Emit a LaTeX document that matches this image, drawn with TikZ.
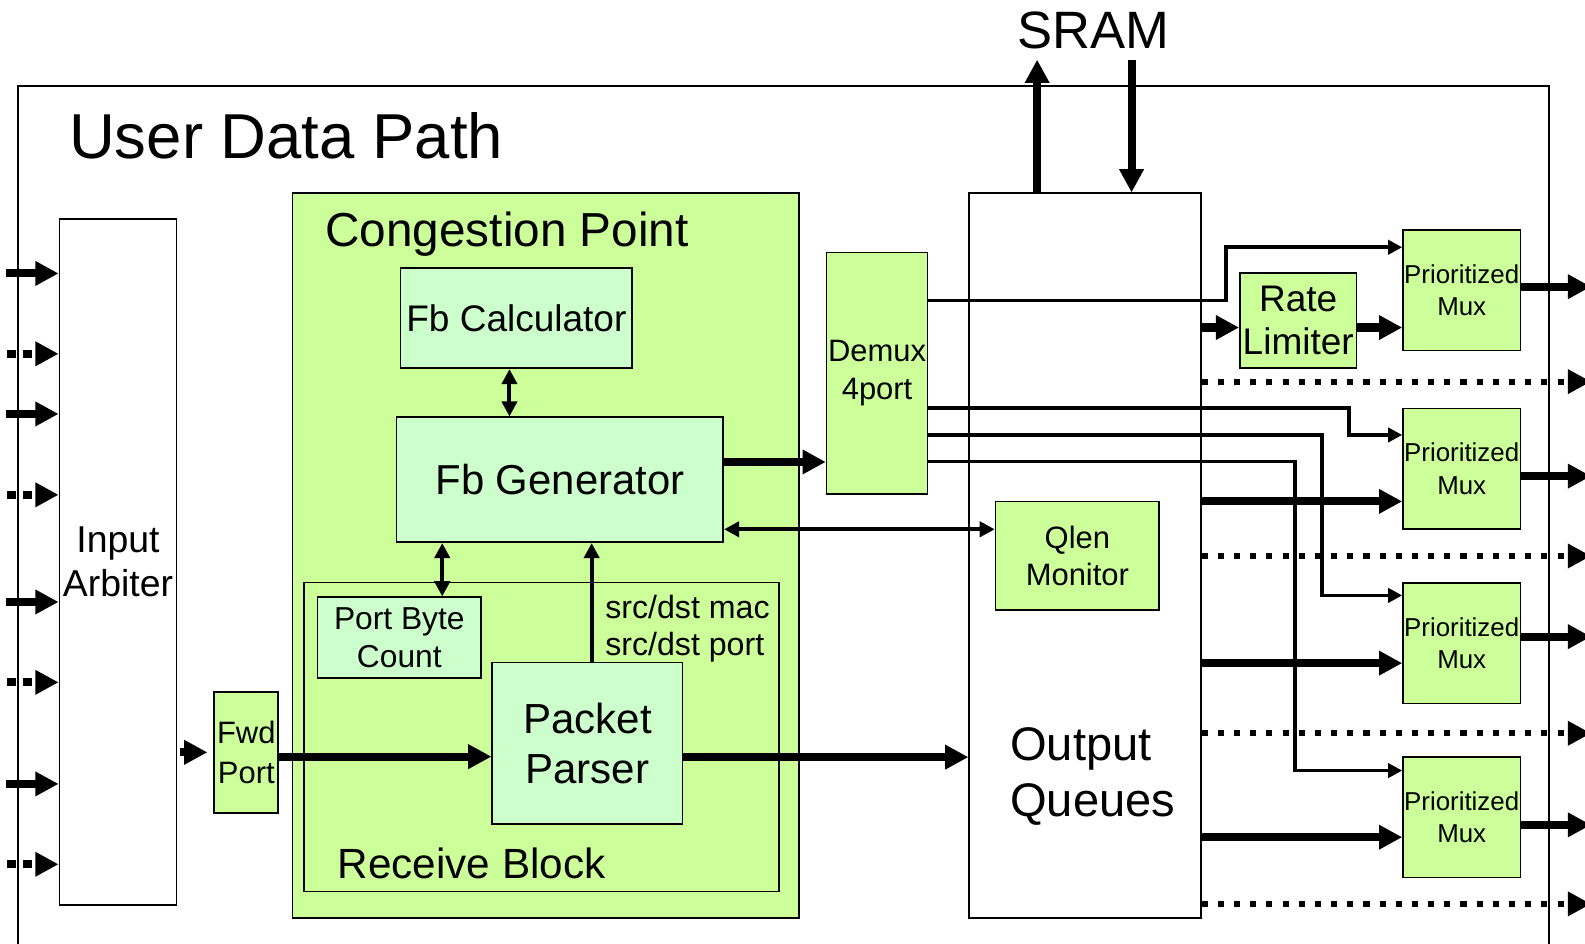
\documentclass[tikz,border=0pt]{standalone}
\usepackage{fontspec}
\setmainfont{Liberation Sans}
\usepackage{xcolor}
\usepackage{tikz}
\usetikzlibrary{positioning,arrows.meta}
\definecolor{lime}{HTML}{CCFF99}
\definecolor{mint}{HTML}{CCFFCC}
\newcommand{\fsz}[2]{\fontsize{#1}{#2}\selectfont}

\begin{document}
\begin{tikzpicture}[x=0.5pt,y=-0.5pt,
  blk/.style={draw,line width=0.8pt,inner sep=0pt,align=center,fill=lime},
  sub/.style={blk,fill=mint},
  lbl/.style={inner sep=0pt},
  bus/.style={line width=4pt,-{Triangle[length=11.5pt,width=11.5pt]}},
  busdot/.style={bus,line width=3pt,dash pattern=on 3pt off 5pt},
  busin/.style={bus,dash pattern=on 4.3pt off 3.7pt},
  sig/.style={line width=1.8pt,-{Triangle[length=7pt,width=7pt]}},
  ctl/.style={line width=2pt,{Triangle[length=7.5pt,width=7.5pt]}-{Triangle[length=7.5pt,width=7.5pt]}},
  upsig/.style={line width=2pt,-{Triangle[length=7.5pt,width=7.5pt]}}]
\useasboundingbox (0,0) rectangle (1568,933);

\node[draw,line width=1pt,minimum width=757pt,minimum height=437.5pt] (udp) at (775,522.5) {};
\node[lbl,anchor=base west,font=\fsz{31.4}{37}] (udplbl) at (68,157) {User Data Path};
\node[lbl,anchor=base,font=\fsz{26}{31}] (sram) at (1082,48) {SRAM};

\node[blk,fill=white,minimum width=58pt,minimum height=339.4pt,font=\fsz{18.5}{21.5}] (arb) at (116.75,556) {Input\\Arbiter};
\node[blk,minimum width=31.65pt,minimum height=59.75pt,font=\fsz{15.3}{19.5}] (fwd) at (243.65,744.25) {Fwd\\Port};

\node[blk,minimum width=250.4pt,minimum height=358.55pt] (cp) at (539.9,549.75) {};
\node[lbl,anchor=base west,font=\fsz{23.6}{28}] (cplbl) at (321.5,244) {Congestion Point};
\node[sub,minimum width=114.55pt,minimum height=49.45pt,font=\fsz{18.3}{22}] (calc) at (510.85,314.85) {Fb Calculator};
\node[sub,minimum width=161.55pt,minimum height=61.8pt,font=\fsz{20.7}{24}] (gen) at (553.95,474.6) {Fb Generator};
\node[blk,minimum width=234.9pt,minimum height=152.85pt] (rb) at (535.6,729.15) {};
\node[lbl,anchor=base west,font=\fsz{20.9}{25}] (rblbl) at (333.7,869) {Receive Block};
\node[sub,minimum width=80.8pt,minimum height=40.1pt,font=\fsz{15.7}{18.5}] (pbc) at (395,630.9) {Port Byte\\Count};
\node[sub,minimum width=94.15pt,minimum height=79.95pt,font=\fsz{20.8}{24.7}] (pp) at (581.15,735.45) {Packet\\Parser};
\node[lbl,anchor=north west,align=left,font=\fsz{15.9}{18.3}] (hdrlbl) at (598.4,588.5) {src/dst mac\\src/dst port};

\node[blk,minimum width=49.95pt,minimum height=119.5pt,font=\fsz{15.3}{19}] (demux) at (867.65,369.1) {Demux\\4port};
\node[blk,fill=white,minimum width=114.6pt,minimum height=358.4pt] (oq) at (1073.4,549.6) {};
\node[lbl,anchor=north west,align=left,font=\fsz{23.3}{28}] (oqlbl) at (999,719) {Output\\Queues};
\node[blk,minimum width=80.9pt,minimum height=53.7pt,font=\fsz{15.3}{18.5}] (qlen) at (1065.8,549.7) {Qlen\\Monitor};
\node[blk,minimum width=57.7pt,minimum height=46.85pt,font=\fsz{18.3}{21}] (rl) at (1284.3,317) {Rate\\Limiter};
\foreach \y [count=\i] in {287.2,463.65,636.2,808.4}
  \node[blk,minimum width=58pt,minimum height=59.7pt,font=\fsz{12.8}{16}] (mux\i) at (1446,\y) {Prioritized\\Mux};

\foreach \y [count=\i] in {270.5,409.5,595.5,775.5}{
  \coordinate (ins\i) at (6,\y);
  \draw[bus] (ins\i) -- (ins\i -| arb.west);
}
\foreach \y [count=\i] in {350,489.5,675,855}{
  \coordinate (ind\i) at (7,\y);
  \draw[busin] (ind\i) -- (ind\i -| arb.west);
}
\draw[bus,shorten <=1.3pt,shorten >=3pt] (fwd.west -| arb.east) -- (fwd.west);
\draw[bus] (fwd.east |- 0,748.5) -- (pp.west |- 0,748.5);
\draw[bus] (pp.east |- 0,749) -- (oq.west |- 0,749);
\draw[bus] (gen.east |- 0,457) -- (demux.west |- 0,457);
\draw[ctl] (calc.south -| 504,0) -- (gen.north -| 504,0);
\draw[ctl] (gen.south -| 437.5,0) -- (pbc.north -| 437.5,0);
\draw[upsig] (pp.north -| 585.3,0) -- (gen.south -| 585.3,0);
\draw[ctl] (gen.east |- 0,523.6) -- (qlen.west |- 0,523.6);

\coordinate (sramup) at (1026,59);
\coordinate (sramdn) at (1119.4,59);
\draw[bus] (oq.north -| sramup) -- (sramup);
\draw[bus] (sramdn) -- (oq.north -| sramdn);

\draw[sig] (demux.east |- 0,297.4) -| (1213,244.6) -- (mux1.west |- 0,244.6);
\draw[sig] (demux.east |- 0,403.9) -| (1334.6,430.3) -- (mux2.west |- 0,430.3);
\draw[sig] (demux.east |- 0,430.3) -| (1308,589) -- (mux3.west |- 0,589);
\draw[sig] (demux.east |- 0,456.7) -| (1281,762.3) -- (mux4.west |- 0,762.3);

\draw[bus] (oq.east |- 0,324) -- (rl.west |- 0,324);
\draw[bus] (rl.east |- 0,324) -- (mux1.west |- 0,324);
\draw[bus] (oq.east |- 0,496) -- (mux2.west |- 0,496);
\draw[bus] (oq.east |- 0,656) -- (mux3.west |- 0,656);
\draw[bus] (oq.east |- 0,828.2) -- (mux4.west |- 0,828.2);

\coordinate (edge) at (1574,0);
\foreach \y [count=\i] in {283.6,471,629.8,816}
  \draw[bus] (mux\i.east |- 0,\y) -- (edge |- 0,\y);
\foreach \y in {377.5,550,725.4,894.2}
  \draw[busdot] (oq.east |- 0,\y) -- (edge |- 0,\y);
\end{tikzpicture}
\end{document}
